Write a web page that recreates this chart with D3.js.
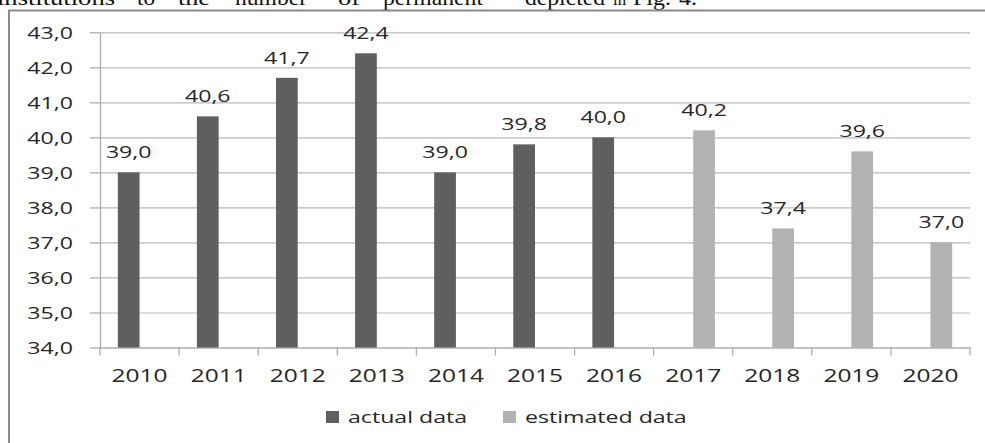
<!DOCTYPE html>
<html>
<head>
<meta charset="utf-8">
<script src="https://cdn.jsdelivr.net/npm/d3@7"></script>
<style>
  html, body { margin: 0; padding: 0; background: #fff; overflow: hidden; }
  svg { display: block; }
</style>
</head>
<body>
<svg id="chart" width="985" height="443"></svg>
<script>
// ---- data ----
const years = ["2010","2011","2012","2013","2014","2015","2016","2017","2018","2019","2020"];
const actualValues = [39.0, 40.6, 41.7, 42.4, 39.0, 39.8, 40.0, null, null, null, null];
const estimatedValues = [null, null, null, null, null, null, null, 40.2, 37.4, 39.6, 37.0];
const seriesNames = ["actual data", "estimated data"];
const yTickValues = [34, 35, 36, 37, 38, 39, 40, 41, 42, 43];
const yTickLabels = ["34,0","35,0","36,0","37,0","38,0","39,0","40,0","41,0","42,0","43,0"];
const headerWords = ["institutions","to","the","number","of","permanent","depicted","in","Fig.","4."];

// ---- layout / style ----
const W = 985, H = 443;
const plot = { left: 100, right: 970, top: 32.3, bottom: 347.5 };
const colors = { "actual data": "#5f5f5f", "estimated data": "#b2b2b2" };
const textColor = "#262626";
const gridColor = "#b9b9b9";
const axisColor = "#a8a8a8";
const font = "'Open Sans', 'Noto Sans', sans-serif";
const fs = 17;
const sx = 1.36; // horizontal stretch seen in reference

const svg = d3.select("#chart");
svg.append("rect").attr("width", W).attr("height", H).attr("fill", "#fff");

// header text (clipped line of body text above the figure)
const headerX = [[-3,115],[137,155],[178,210],[235,307],[338,360],[383,483],[525,605],[613,626],[633,671],[679,697]];
const hdr = svg.append("g");
headerWords.forEach((w, i) => {
  hdr.append("text")
    .attr("x", headerX[i][0]).attr("y", 5)
    .attr("textLength", headerX[i][1] - headerX[i][0])
    .attr("lengthAdjust", "spacingAndGlyphs")
    .attr("font-family", "'Liberation Serif', 'Times New Roman', serif")
    .attr("font-size", 21)
    .attr("fill", "#111")
    .text(w);
});

// outer frame
svg.append("rect")
  .attr("x", 9).attr("y", 10.5).attr("width", 1100).attr("height", 600)
  .attr("fill", "none").attr("stroke", "#8a8a8a").attr("stroke-width", 2);

// scales
const x = d3.scaleBand().domain(years).range([plot.left, plot.right]).padding(0);
const xs = d3.scaleBand().domain(seriesNames).range([0, x.bandwidth()]).paddingInner(0).paddingOuter(0.82);
const y = d3.scaleLinear().domain([34, 43]).range([plot.bottom, plot.top]);

// gridlines
const grid = svg.append("g").attr("transform", `translate(${plot.left},0)`)
  .call(d3.axisLeft(y).tickValues(yTickValues).tickSize(-(plot.right - plot.left)).tickFormat(""));
grid.select(".domain").remove();
grid.selectAll("line").attr("stroke", gridColor).attr("stroke-width", 1.2);

// y axis
const yAxis = svg.append("g").attr("transform", `translate(${plot.left},0)`)
  .call(d3.axisLeft(y).tickValues(yTickValues).tickSize(10).tickSizeOuter(0)
    .tickFormat((d, i) => yTickLabels[i]));
yAxis.select(".domain").attr("stroke", axisColor).attr("stroke-width", 1.2);
yAxis.selectAll(".tick line").attr("stroke", axisColor).attr("stroke-width", 1.2);
yAxis.selectAll(".tick text")
  .attr("x", null).attr("dy", null)
  .attr("transform", `translate(-27,6) scale(${sx},1)`)
  .attr("text-anchor", "end")
  .attr("font-family", font).attr("font-size", fs).attr("fill", textColor);

// x axis
const xAxis = svg.append("g").attr("transform", `translate(0,${plot.bottom})`)
  .call(d3.axisBottom(x).tickSize(0).tickSizeOuter(0));
xAxis.select(".domain").attr("stroke", axisColor).attr("stroke-width", 1.2);
xAxis.selectAll(".tick text")
  .attr("y", null).attr("dy", null)
  .attr("transform", `translate(0,34.5) scale(${sx},1)`)
  .attr("text-anchor", "middle")
  .attr("font-family", font).attr("font-size", fs + 1).attr("fill", textColor);
// category boundary ticks
const bounds = years.map(d => x(d)).concat([plot.right]);
xAxis.selectAll(".bound").data(bounds).join("line").attr("class", "bound")
  .attr("x1", d => d).attr("x2", d => d).attr("y1", 0).attr("y2", 8)
  .attr("stroke", axisColor).attr("stroke-width", 1.2);

// bars
const series = [
  { name: seriesNames[0], values: actualValues },
  { name: seriesNames[1], values: estimatedValues }
];
const fmt = v => d3.format(".1f")(v).replace(".", ",");
series.forEach(s => {
  const pts = years.map((yr, i) => ({ yr, v: s.values[i] })).filter(d => d.v != null);
  svg.append("g").selectAll("rect").data(pts).join("rect")
    .attr("x", d => x(d.yr) + xs(s.name))
    .attr("width", xs.bandwidth())
    .attr("y", d => y(d.v))
    .attr("height", d => y(34) - y(d.v))
    .attr("fill", colors[s.name]);
  svg.append("g").selectAll("text").data(pts).join("text")
    .attr("transform", d => `translate(${x(d.yr) + xs(s.name) + xs.bandwidth() / 2},${y(d.v) - 14}) scale(${sx},1)`)
    .attr("text-anchor", "middle")
    .attr("font-family", font).attr("font-size", fs).attr("fill", textColor)
    .text(d => fmt(d.v));
});

// legend
const legendX = [326, 503];
const leg = svg.append("g");
seriesNames.forEach((n, i) => {
  leg.append("rect").attr("x", legendX[i]).attr("y", 411).attr("width", 13).attr("height", 12)
    .attr("fill", colors[n]);
  leg.append("text")
    .attr("transform", `translate(${legendX[i] + 22},423) scale(${sx},1)`)
    .attr("font-family", font).attr("font-size", fs).attr("fill", textColor)
    .text(n);
});
</script>
</body>
</html>
